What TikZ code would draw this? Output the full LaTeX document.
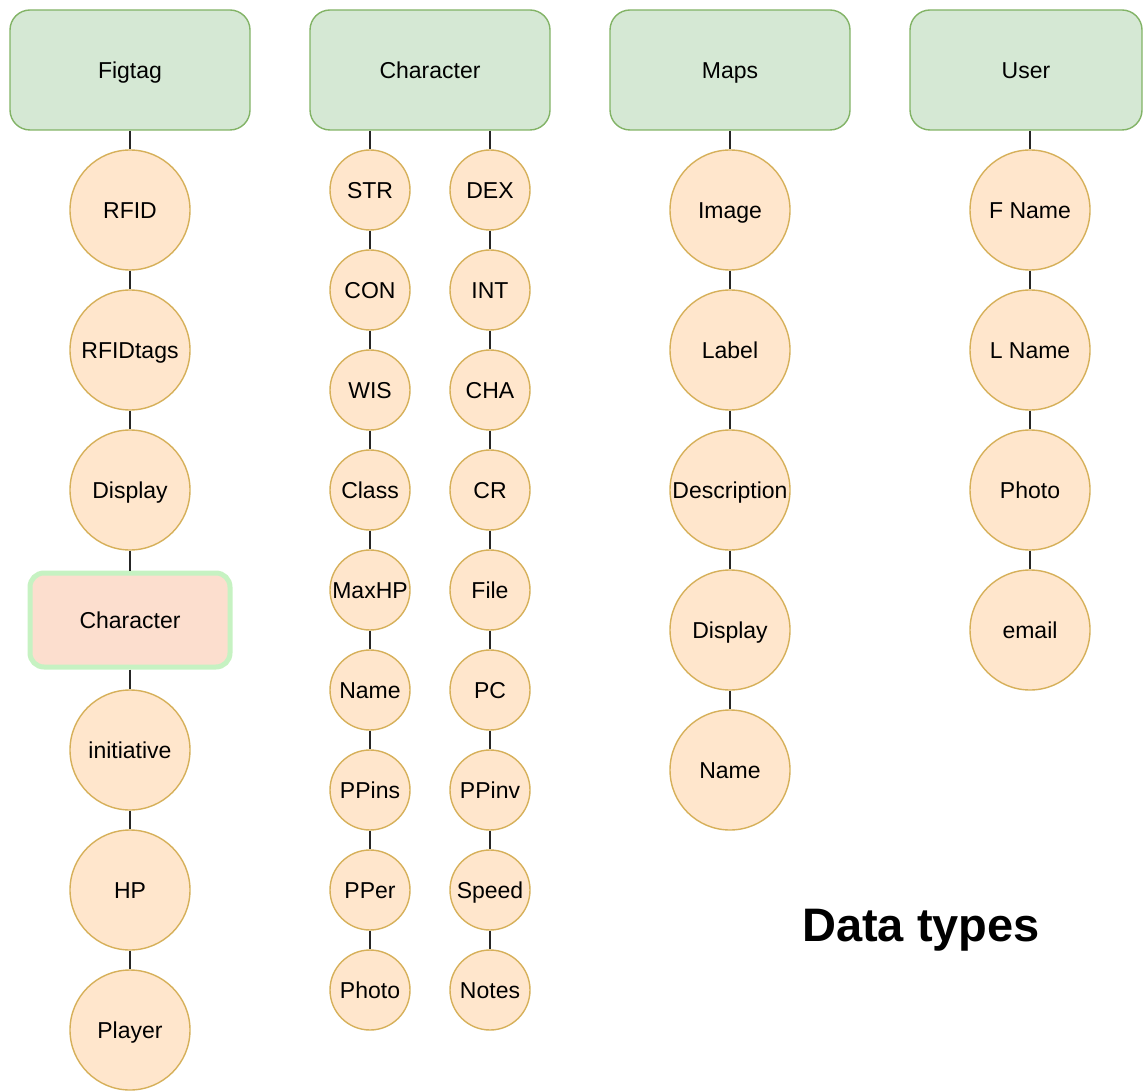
\documentclass[tikz,border=0pt]{standalone}
\usepackage{fontspec}
\setmainfont{Liberation Sans}
\begin{document}
\begin{tikzpicture}[x=0.5pt,y=-0.5pt,
  label font/.style={font=\fontsize{11.5}{13}\selectfont,text height=8.2pt,text depth=0pt},
  header/.style={draw=hdrline,fill=hdrfill,line width=0.7pt,rounded corners=10pt,
    minimum width=120pt,minimum height=60pt,inner sep=0pt,label font},
  bigfield/.style={circle,draw=fldline,fill=fldfill,line width=0.7pt,minimum size=60pt,
    inner sep=0pt,label font},
  smallfield/.style={circle,draw=fldline,fill=fldfill,line width=0.7pt,minimum size=40pt,
    inner sep=0pt,label font},
  link/.style={draw=black!85,line width=0.8pt}]
\definecolor{hdrfill}{HTML}{D5E8D4}
\definecolor{hdrline}{HTML}{82B366}
\definecolor{fldfill}{HTML}{FFE6CC}
\definecolor{fldline}{HTML}{D6B05A}
\definecolor{glow}{HTML}{C6F2C2}
\definecolor{charfill}{HTML}{FCDECE}
\useasboundingbox (0,0) rectangle (1143,1090);

% column headers
\node[header] (figtag) at (130,70) {Figtag};
\node[header] (chr) at (430,70) {Character};
\node[header] (maps) at (730,70) {Maps};
\node[header,minimum width=116pt] (user) at (1026,70) {User};

% Figtag fields
\node[bigfield] (f1) at (130,210) {RFID};
\node[bigfield] (f2) at (130,350) {RFIDtags};
\node[bigfield] (f3) at (130,490) {Display};
\node[draw=glow,fill=charfill,line width=2.5pt,rounded corners=7pt,minimum width=100pt,
  minimum height=47pt,inner sep=0pt,label font] (f4) at (130,620) {Character};
\node[bigfield] (f5) at (130,750) {initiative};
\node[bigfield] (f6) at (130,890) {HP};
\node[bigfield] (f7) at (130,1030) {Player};
\draw[link] (figtag) -- (f1) -- (f2) -- (f3) -- (f4) -- (f5) -- (f6) -- (f7);

% Character fields, two chains
\foreach \t [count=\i] in {STR,CON,WIS,Class,MaxHP,Name,PPins,PPer,Photo}
  \node[smallfield] (a\i) at (370,90+100*\i) {\t};
\foreach \t [count=\i] in {DEX,INT,CHA,CR,File,PC,PPinv,Speed,Notes}
  \node[smallfield] (b\i) at (490,90+100*\i) {\t};
\draw[link] (chr.south -| a1) -- (a1);
\draw[link] (chr.south -| b1) -- (b1);
\foreach \i [evaluate=\i as \j using int(\i+1)] in {1,...,8}{
  \draw[link] (a\i) -- (a\j);
  \draw[link] (b\i) -- (b\j);
}

% Maps fields
\node[bigfield] (m1) at (730,210) {Image};
\node[bigfield] (m2) at (730,350) {Label};
\node[bigfield] (m3) at (730,490) {Description};
\node[bigfield] (m4) at (730,630) {Display};
\node[bigfield] (m5) at (730,770) {Name};
\draw[link] (maps) -- (m1) -- (m2) -- (m3) -- (m4) -- (m5);

% User fields
\node[bigfield] (u1) at (1030,210) {F Name};
\node[bigfield] (u2) at (1030,350) {L Name};
\node[bigfield] (u3) at (1030,490) {Photo};
\node[bigfield] (u4) at (1030,630) {email};
\draw[link] (user.south -| u1) -- (u1) -- (u2) -- (u3) -- (u4);

% caption
\node[font=\bfseries\fontsize{23.5}{26}\selectfont] (title) at (921,930) {Data types};
\end{tikzpicture}
\end{document}
